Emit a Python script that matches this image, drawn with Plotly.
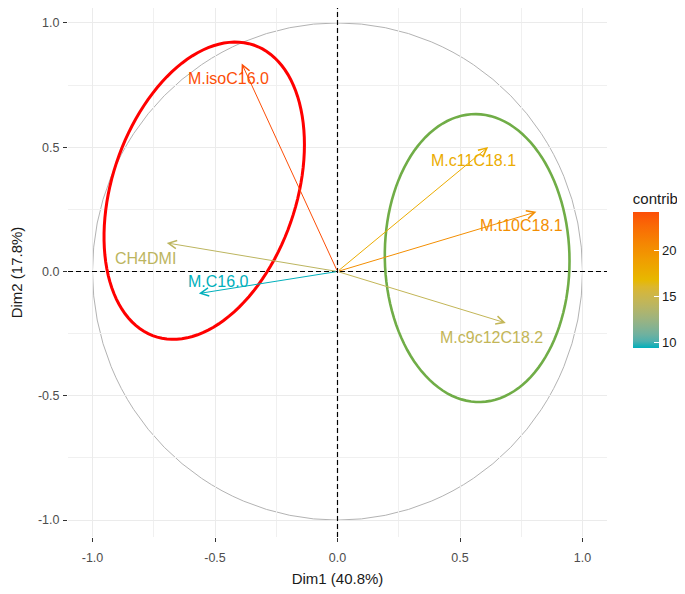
import numpy as np
import plotly.graph_objects as go
from plotly.colors import sample_colorscale

# ---------------- data ----------------
variables = ["M.isoC16.0", "M.c11C18.1", "M.t10C18.1", "M.c9c12C18.2", "CH4DMI", "M.C16.0"]
dim1 = [-0.391, 0.615, 0.812, 0.687, -0.697, -0.566]
dim2 = [0.837, 0.501, 0.240, -0.207, 0.115, -0.0885]
contrib = [24.2, 17.8, 20.2, 14.5, 14.1, 9.4]

x_title = "Dim1 (40.8%)"
y_title = "Dim2 (17.8%)"
axis_ticks = [-1.0, -0.5, 0.0, 0.5, 1.0]
axis_ticktext = ["-1.0", "-0.5", "0.0", "0.5", "1.0"]
cbar_ticks = [10, 15, 20]

# highlight ellipses: centre, spread (sx, sy), correlation
ellipse_red = dict(cx=-0.544, cy=0.325, sx=0.409, sy=0.598, r=0.31)
ellipse_green = dict(cx=0.570, cy=0.054, sx=0.377, sy=0.579, r=-0.02)

# label pixel offsets (style)
label_shift = {
    "M.isoC16.0": (-13, -15),
    "M.c11C18.1": (-15, -14),
    "M.t10C18.1": (-15, -14),
    "M.c9c12C18.2": (-14, -15),
    "CH4DMI": (-21, -16),
    "M.C16.0": (20, 12),
}

FONT = "Liberation Sans, Arial, sans-serif"
grad_cols = ["#00AFBB", "#E7B800", "#FC4E07"]
cmin, cmax = min(contrib), max(contrib)


# ---- Lab-space gradient (as ggplot's gradientn) ----
def hex2rgb(h):
    h = h.lstrip("#")
    return np.array([int(h[i:i + 2], 16) for i in (0, 2, 4)]) / 255.0


def srgb2lin(c):
    return np.where(c <= 0.04045, c / 12.92, ((c + 0.055) / 1.055) ** 2.4)


def lin2srgb(c):
    c = np.clip(c, 0, 1)
    return np.where(c <= 0.0031308, 12.92 * c, 1.055 * c ** (1 / 2.4) - 0.055)


M = np.array([[0.4124, 0.3576, 0.1805], [0.2126, 0.7152, 0.0722], [0.0193, 0.1192, 0.9505]])
Minv = np.linalg.inv(M)
WP = np.array([0.95047, 1.0, 1.08883])


def f(t):
    return np.where(t > (6 / 29) ** 3, np.cbrt(t), t / (3 * (6 / 29) ** 2) + 4 / 29)


def finv(t):
    return np.where(t > 6 / 29, t ** 3, 3 * (6 / 29) ** 2 * (t - 4 / 29))


def rgb2lab(rgb):
    xyz = M @ srgb2lin(rgb) / WP
    fx, fy, fz = f(xyz)
    return np.array([116 * fy - 16, 500 * (fx - fy), 200 * (fy - fz)])


def lab2hex(lab):
    L, a, b = lab
    fy = (L + 16) / 116
    xyz = np.array([finv(fy + a / 500), finv(fy), finv(fy - b / 200)]) * WP
    rgb = lin2srgb(Minv @ xyz)
    return "#%02x%02x%02x" % tuple(int(round(v * 255)) for v in rgb)


labs = [rgb2lab(hex2rgb(c)) for c in grad_cols]
grad = []
N = 20
for i in range(N + 1):
    t = i / N
    if t <= 0.5:
        u = t / 0.5
        lab = labs[0] * (1 - u) + labs[1] * u
    else:
        u = (t - 0.5) / 0.5
        lab = labs[1] * (1 - u) + labs[2] * u
    grad.append([t, lab2hex(lab)])


def ellipse_path(cx, cy, sx, sy, r, n=120):
    t = np.linspace(0, 2 * np.pi, n)
    xs = cx + sx * np.cos(t)
    ys = cy + sy * (r * np.cos(t) + np.sqrt(1 - r * r) * np.sin(t))
    pts = [f"{x:.5f},{y:.5f}" for x, y in zip(xs, ys)]
    return "M " + " L ".join(pts) + " Z"


# figure sized to fit the window after the page's 8px body margin
W, H = 677, 586
ML, MR, MT, MB = 60, 78, 0, 57
plot_h = H - MT - MB

fig = go.Figure()

fig.add_trace(go.Scatter(
    x=dim1, y=dim2, mode="markers", hoverinfo="skip",
    marker=dict(size=1, opacity=0, color=contrib, colorscale=grad,
                cmin=cmin, cmax=cmax, showscale=True,
                colorbar=dict(
                    title=dict(text="contrib", side="top",
                               font=dict(family=FONT, size=15, color="#1A1A1A")),
                    tickvals=cbar_ticks, ticks="inside", ticklen=5,
                    tickcolor="white", tickwidth=1.2,
                    tickfont=dict(family=FONT, size=13, color="#1A1A1A"),
                    thickness=26, lenmode="pixels", len=158,
                    x=1.048, xanchor="left", y=(plot_h - 182) / plot_h, yanchor="top",
                    xpad=0, ypad=0, outlinewidth=0,
                )),
    showlegend=False,
))

norm = [(c - cmin) / (cmax - cmin) for c in contrib]
colors = sample_colorscale(grad, norm)

shapes = []
shapes.append(dict(type="circle", xref="x", yref="y", x0=-1, x1=1, y0=-1, y1=1,
                   line=dict(color="#B3B3B3", width=1), layer="below"))
shapes.append(dict(type="line", xref="x", yref="paper", x0=0, x1=0, y0=0, y1=1,
                   line=dict(color="black", width=1.2, dash="5px,3px")))
shapes.append(dict(type="line", xref="paper", yref="y", x0=0, x1=1, y0=0, y1=0,
                   line=dict(color="black", width=1.2, dash="5px,3px")))
shapes.append(dict(type="path", xref="x", yref="y", path=ellipse_path(**ellipse_red),
                   line=dict(color="#FF0000", width=3), layer="above"))
shapes.append(dict(type="path", xref="x", yref="y", path=ellipse_path(**ellipse_green),
                   line=dict(color="#70AD47", width=2.6), layer="above"))

annotations = []
for name, xv, yv, col in zip(variables, dim1, dim2, colors):
    annotations.append(dict(
        x=xv, y=yv, ax=0, ay=0, xref="x", yref="y", axref="x", ayref="y",
        showarrow=True, arrowhead=5, arrowsize=1.6, arrowwidth=1,
        arrowcolor=col, text="", standoff=0,
    ))
for name, xv, yv, col in zip(variables, dim1, dim2, colors):
    dx, dy = label_shift[name]
    annotations.append(dict(
        x=xv, y=yv, xref="x", yref="y", text=name, showarrow=False,
        xshift=dx, yshift=dy, font=dict(family=FONT, size=16, color=col),
    ))

axis_common = dict(
    showgrid=True, gridcolor="#EBEBEB", gridwidth=1.3, zeroline=False,
    showline=False, ticks="outside", ticklen=4, tickwidth=1, tickcolor="#333333",
    tickfont=dict(family=FONT, size=12.5, color="#4D4D4D"),
    tickvals=axis_ticks, ticktext=axis_ticktext, automargin=False,
    minor=dict(showgrid=True, gridcolor="#F0F0F0", gridwidth=1, dtick=0.25,
               tick0=0.25, ticks=""),
)

fig.update_layout(
    width=W, height=H,
    margin=dict(l=ML, r=MR, t=MT, b=MB, autoexpand=False),
    plot_bgcolor="white", paper_bgcolor="white",
    font=dict(family=FONT),
    xaxis=dict(range=[-1.1, 1.1], ticklabelstandoff=5,
               title=dict(text=x_title, standoff=9,
                          font=dict(family=FONT, size=15, color="#1A1A1A")),
               **axis_common),
    yaxis=dict(range=[-1.068, 1.06], ticklabelstandoff=1,
               title=dict(text=y_title, standoff=12,
                          font=dict(family=FONT, size=15, color="#1A1A1A")),
               **axis_common),
    shapes=shapes,
    annotations=annotations,
)

fig.write_html("out.html")
